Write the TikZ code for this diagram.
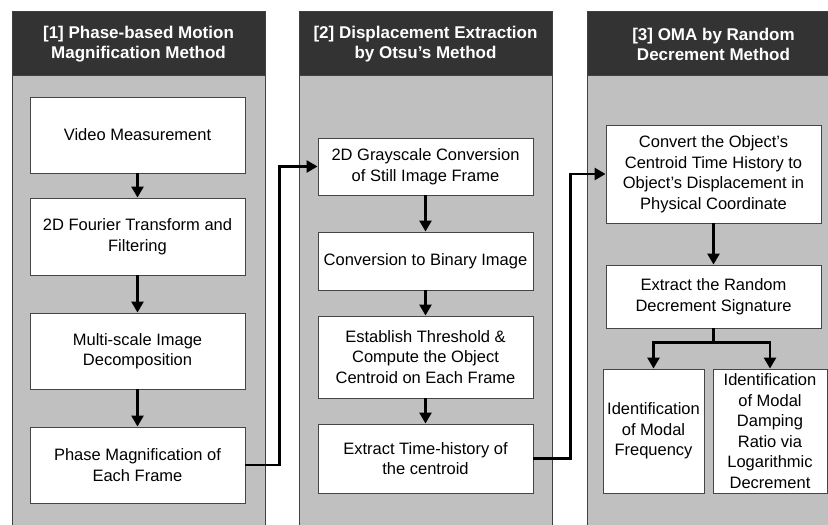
\documentclass[tikz,border=0pt]{standalone}
\usepackage{fontspec}
\setmainfont{Liberation Sans}
\usetikzlibrary{arrows.meta}
\definecolor{colgray}{HTML}{C0C0C0}
\definecolor{headgray}{HTML}{333333}
\definecolor{coledge}{HTML}{404040}
\definecolor{boxedge}{HTML}{454545}
\begin{document}
\begin{tikzpicture}[x=1pt,y=-1pt,
  colbody/.style={fill=colgray, draw=coledge, line width=1pt},
  colhead/.style={fill=headgray, draw=coledge, line width=1pt},
  htext/.style={text=white, font=\fontsize{17}{20}\selectfont\bfseries, align=center, inner sep=0pt},
  box/.style={draw=boxedge, fill=white, line width=0.9pt, align=center, font=\fontsize{16.5}{20.5}\selectfont, inner sep=0pt},
  arr/.style={-{Triangle[width=12pt,length=11pt]}, line width=2.6pt},
  link/.style={line width=2.6pt}]
\useasboundingbox (0,0) rectangle (828,525);
% columns
\fill[white] (0,0) rectangle (828,525);
\draw[colbody] (12,75) rectangle (265,540);
\draw[colhead] (12,11) rectangle (265,75);
\draw[colbody] (299,75) rectangle (552,540);
\draw[colhead] (299,11) rectangle (552,75);
\draw[colbody] (587,75) rectangle (850,540);
\draw[colhead] (587,11) rectangle (850,75);
\node[htext] (h1) at (138.5,44) {[1] Phase-based Motion\\Magnification Method};
\node[htext] (h2) at (425.5,44) {[2] Displacement Extraction\\by Otsu’s Method};
\node[htext] (h3) at (713.5,44) {[3] OMA by Random\\Decrement Method};
% column 1
\node[box, minimum width=215pt, minimum height=76pt] (b1) at (137.5,135) {Video Measurement};
\node[box, minimum width=215pt, minimum height=77pt] (b2) at (137.5,236.5) {2D Fourier Transform and\\Filtering};
\node[box, minimum width=215pt, minimum height=76pt] (b3) at (137.5,351) {Multi-scale Image\\Decomposition};
\node[box, minimum width=215pt, minimum height=76pt] (b4) at (137.5,465) {Phase Magnification of\\Each Frame};
% column 2
\node[box, minimum width=215pt, minimum height=57pt] (c1) at (425.5,166.5) {2D Grayscale Conversion\\of Still Image Frame};
\node[box, minimum width=215pt, minimum height=58pt] (c2) at (425.5,261) {Conversion to Binary Image};
\node[box, minimum width=215pt, minimum height=82pt] (c3) at (425.5,357) {Establish Threshold \&\\Compute the Object\\Centroid on Each Frame};
\node[box, minimum width=215pt, minimum height=69pt] (c4) at (425.5,458.5) {Extract Time-history of\\the centroid};
% column 3
\node[box, minimum width=215pt, minimum height=98pt] (d1) at (713.5,174) {Convert the Object’s\\Centroid Time History to\\Object’s Displacement in\\Physical Coordinate};
\node[box, minimum width=215pt, minimum height=63pt] (d2) at (713.5,296.5) {Extract the Random\\Decrement Signature};
\node[box, minimum width=101pt, minimum height=124pt] (d3) at (653.5,431) {Identification\\of Modal\\Frequency};
\node[box, minimum width=114pt, minimum height=124pt] (d4) at (770,431) {Identification\\of Modal\\Damping\\Ratio via\\Logarithmic\\Decrement};
% arrows
\draw[arr] (b1) -- (b2);
\draw[arr] (b2) -- (b3);
\draw[arr] (b3) -- (b4);
\draw[arr] (c1) -- (c2);
\draw[arr] (c2) -- (c3);
\draw[arr] (c3) -- (c4);
\draw[arr] (d1) -- (d2);
\draw[arr] (b4.east) -- ++(34,0) |- (c1.west);
\draw[arr] (c4.east) -- ++(37,0) |- (d1.west);
\draw[link] (d2.south) -- ++(0,14) coordinate (br);
\draw[arr] (br) -| (d3.north);
\draw[arr] (br) -| (d4.north);
\end{tikzpicture}
\end{document}
